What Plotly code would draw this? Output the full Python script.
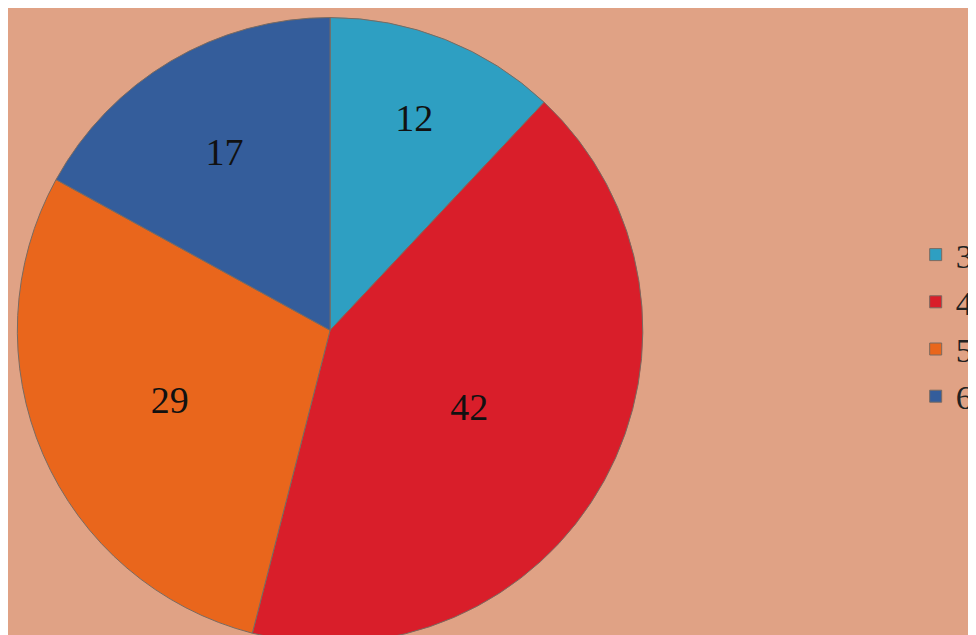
import plotly.graph_objects as go

labels = ["3", "4", "5", "6"]
values = [12, 42, 29, 17]
colors = ["#2E9FC2", "#D91E2A", "#E9661C", "#345D9B"]

fig = go.Figure(go.Pie(
    labels=labels, values=values,
    sort=False, direction="clockwise", rotation=0,
    marker=dict(colors=colors, line=dict(color="#7a6a60", width=1)),
    textinfo="value", textposition="inside", insidetextorientation="horizontal",
    textfont=dict(family="Liberation Serif", size=38, color="#111111"),
    domain=dict(x=[0.0, 0.66], y=[0.0, 0.985]),
))

fig.update_layout(
    width=976, height=635,
    margin=dict(l=0, r=0, t=0, b=0),
    paper_bgcolor="#E0A285",
    showlegend=True,
    legend=dict(x=0.93, y=0.5, xanchor="left", yanchor="middle",
                font=dict(family="Liberation Serif", size=34, color="#222222"),
                bgcolor="rgba(0,0,0,0)", tracegroupgap=0),
)

fig.write_html("out.html")
